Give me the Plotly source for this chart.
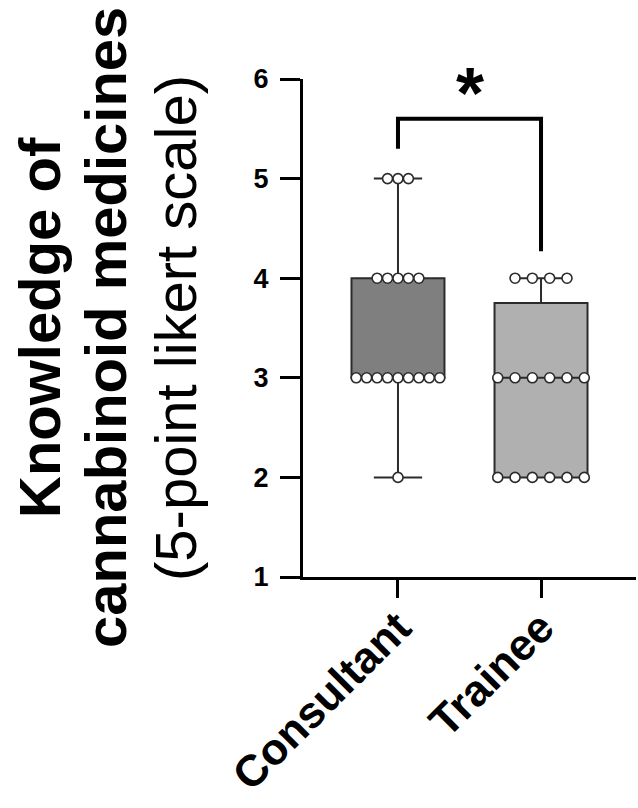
import numpy as np
import plotly.graph_objects as go

# ---- data ----
groups = ["Consultant", "Trainee"]
levels = [2, 3, 4, 5]
consultant_counts = [1, 9, 5, 3]
trainee_counts = [6, 6, 4, 0]
y_ticks = [1, 2, 3, 4, 5, 6]
sig_label = "*"

counts = [consultant_counts, trainee_counts]
fills = ["#7f7f7f", "#b0b0b0"]
spacing = [0.073, 0.121]  # horizontal spread of points (data units)

FONT = "Arial, Liberation Sans, sans-serif"
fig = go.Figure()

# boxes
for gi, (name, cnt) in enumerate(zip(groups, counts)):
    vals = np.repeat(levels, cnt).astype(float)
    q1, med, q3 = np.percentile(vals, [25, 50, 75], method="weibull")
    fig.add_trace(go.Box(
        x=[gi], q1=[q1], median=[med], q3=[q3],
        lowerfence=[vals.min()], upperfence=[vals.max()],
        width=0.65, whiskerwidth=0.52,
        fillcolor=fills[gi],
        line=dict(color="#2b2b2b", width=2),
        boxpoints=False, showlegend=False, hoverinfo="skip",
    ))

# points
for gi, (name, cnt) in enumerate(zip(groups, counts)):
    xs, ys = [], []
    for lv, n in zip(levels, cnt):
        for i in range(n):
            xs.append(gi + (i - (n - 1) / 2) * spacing[gi])
            ys.append(lv)
    fig.add_trace(go.Scatter(
        x=xs, y=ys, mode="markers",
        marker=dict(size=10, color="white", line=dict(color="#2b2b2b", width=1.6)),
        showlegend=False, hoverinfo="skip", cliponaxis=False,
    ))

# helper trace so the tick-mark axis is drawn
fig.add_trace(go.Scatter(x=[None], y=[None], xaxis="x2", mode="markers",
                         showlegend=False, hoverinfo="skip"))

# significance bracket
bracket_y, left_drop, right_drop = 5.6, 5.3, 4.27
fig.add_shape(type="path",
              path=f"M 0 {left_drop} L 0 {bracket_y} L 1 {bracket_y} L 1 {right_drop}",
              xref="x", yref="y", line=dict(color="black", width=4))
fig.add_annotation(x=0.5, y=bracket_y, xref="x", yref="y", text=sig_label,
                   showarrow=False, yanchor="bottom", yshift=-16,
                   font=dict(family=FONT, size=72, color="black", weight="bold"))

# y-axis title (three lines)
title_lines = [("Knowledge of", "bold", 39),
               ("cannabinoid medicines", "bold", 105),
               ("(5-point likert scale)", "normal", 175)]
for txt, w, px in title_lines:
    fig.add_annotation(x=(px - 303) / 333, y=0.5, xref="paper", yref="paper",
                       text=txt, textangle=-90, showarrow=False,
                       xanchor="center", yanchor="middle",
                       font=dict(family=FONT, size=58, color="black", weight=w))

xr = [-0.664, 1.664]
fig.update_layout(
    width=638, height=808, autosize=False,
    margin=dict(l=303, r=2, t=79, b=231, autoexpand=False),
    paper_bgcolor="white", plot_bgcolor="white",
    boxmode="overlay",
    xaxis=dict(range=xr, tickvals=[0, 1], ticktext=groups,
               tickangle=-45, ticks="", showline=True, linewidth=3, linecolor="black",
               showgrid=False, zeroline=False, automargin=False,
               ticklabelstandoff=4,
               tickfont=dict(family=FONT, size=44, color="black", weight="bold")),
    xaxis2=dict(range=xr, overlaying="x", anchor="y", side="bottom",
                tickvals=[0, 1], ticks="outside", ticklen=20, tickwidth=3,
                tickcolor="black", showticklabels=False, showline=False,
                showgrid=False, zeroline=False, automargin=False),
    yaxis=dict(range=[1, 6], tickvals=y_ticks, ticks="outside", ticklen=20,
               tickwidth=3, tickcolor="black", showline=True, linewidth=3,
               linecolor="black", showgrid=False, zeroline=False,
               ticklabelstandoff=6, automargin=False,
               tickfont=dict(family=FONT, size=27, color="black", weight="bold")),
)

post = ("document.body.style.margin='0';document.body.style.overflow='hidden';"
        "var gd=document.getElementById('{plot_id}');"
        "Plotly.relayout(gd,{width:638,height:808});")
fig.write_html("out.html", config={"responsive": False, "displayModeBar": False},
               post_script=post)
